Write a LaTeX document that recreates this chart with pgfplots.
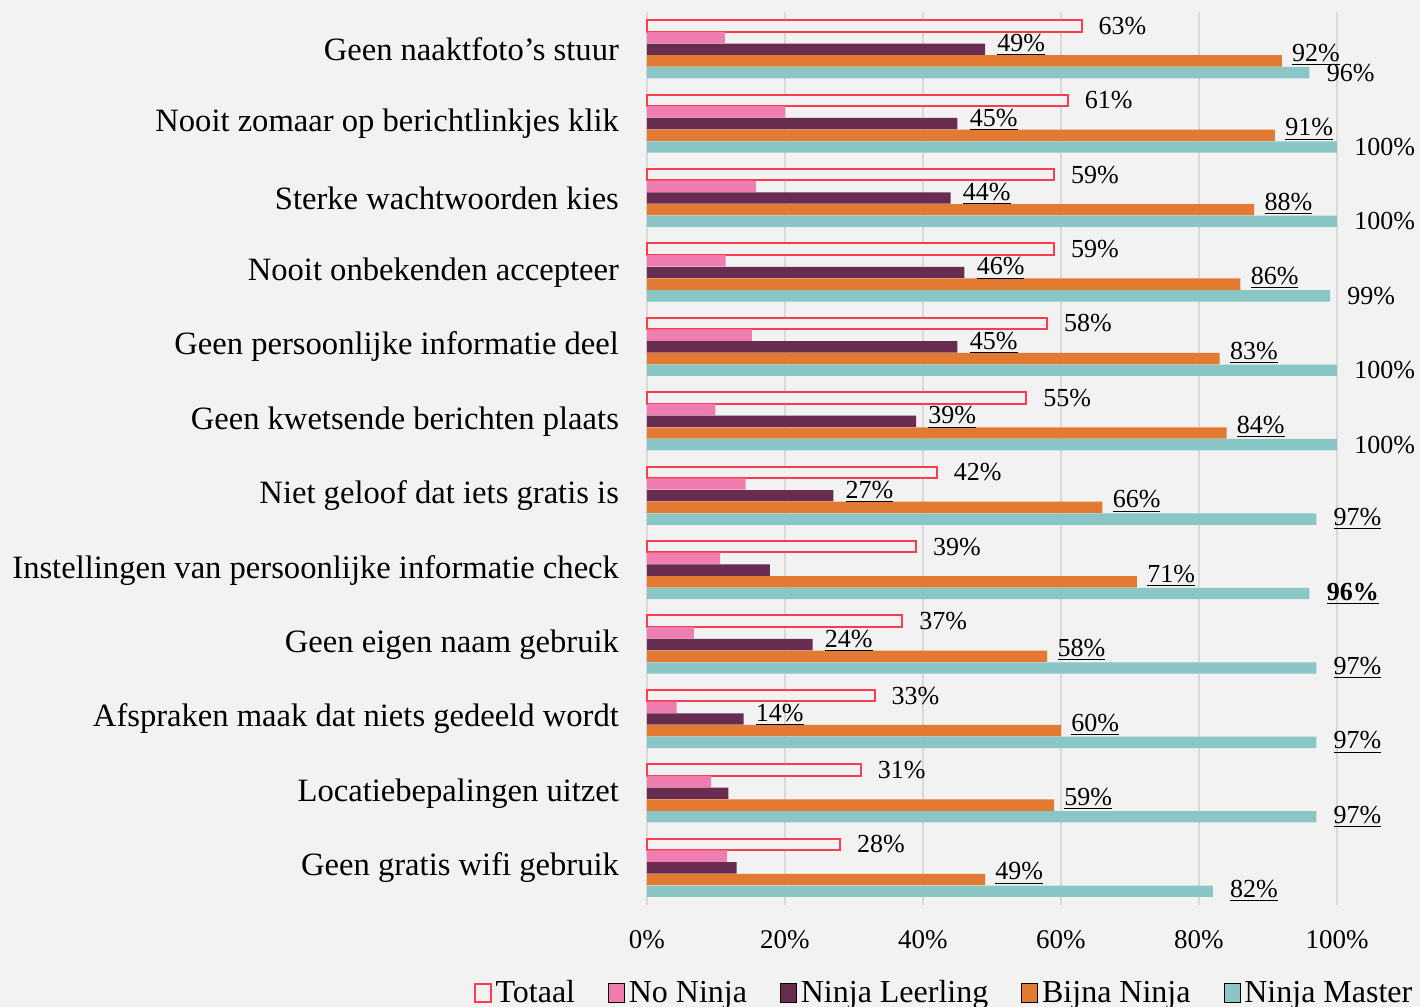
\documentclass[border=0pt]{standalone}
\usepackage{fontspec}
\setmainfont{Liberation Serif}
\usepackage{pgfplots}
\pgfplotsset{compat=1.18}
\definecolor{bg}{HTML}{F2F2F2}
\definecolor{cTot}{HTML}{FF3B4E}
\definecolor{cNo}{HTML}{EF7DAF}
\definecolor{cLeer}{HTML}{672C50}
\definecolor{cBijna}{HTML}{E27B31}
\definecolor{cMaster}{HTML}{8BC6C7}
\definecolor{gridc}{HTML}{D9D9D9}

\pgfplotsset{
  lgd/.style={legend image code/.code={\draw[##1] (0pt,-4.6pt) rectangle (8pt,4.6pt);}},
}

\begin{document}
\begin{tikzpicture}
% page = 1420 x 1007 px at 0.5pt per px; plot area lower left at (0,0)
\path[use as bounding box, fill=bg] (-323.5pt,-51pt) rectangle (386.5pt,452.5pt);
\begin{axis}[
    scale only axis,
    width=345pt, height=446.5pt,
    xbar, bar width=5.7pt,
    xmin=0, xmax=100,
    ymin=-0.5, ymax=11.5, y dir=reverse,
    axis line style={draw=none},
    major tick length=0pt,
    xtick={0,20,...,100},
    xticklabel={\pgfmathprintnumber{\tick}\%},
    /pgf/number format/assume math mode=true,
    xticklabel style={font=\fontsize{13.5}{15}\selectfont, yshift=-9pt},
    xmajorgrids, grid style={gridc, line width=0.8pt},
    ytick={0,...,11},
    yticklabels={Geen naaktfoto's stuur, Nooit zomaar op berichtlinkjes klik,
      Sterke wachtwoorden kies, Nooit onbekenden accepteer,
      Geen persoonlijke informatie deel, Geen kwetsende berichten plaats,
      Niet geloof dat iets gratis is, Instellingen van persoonlijke informatie check,
      Geen eigen naam gebruik, Afspraken maak dat niets gedeeld wordt,
      Locatiebepalingen uitzet, Geen gratis wifi gebruik},
    yticklabel style={font=\fontsize{16.3}{18}\selectfont, xshift=-10.5pt},
    clip=false,
    point meta=explicit symbolic,
    nodes near coords={\pgfplotspointmeta},
    every node near coord/.append style={font=\fontsize{13}{15}\selectfont, anchor=west, inner sep=0pt, black},
    legend columns=-1,
    legend style={draw=none, fill=none, at={(-0.2606,-0.0985)}, anchor=west,
      font=\fontsize{16}{18}\selectfont,
      /tikz/every even column/.append style={column sep=14.5pt}},
]
\addplot[bar shift=11.7pt, draw=cTot, fill=bg, line width=1pt, lgd,
  every node near coord/.append style={xshift=8pt}] coordinates {
  (63,0) [63\%] (61,1) [61\%] (59,2) [59\%] (59,3) [59\%] (58,4) [58\%] (55,5) [55\%]
  (42,6) [42\%] (39,7) [39\%] (37,8) [37\%] (33,9) [33\%] (31,10) [31\%] (28,11) [28\%]};
\addplot[bar shift=5.85pt, draw=none, fill=cNo, lgd, nodes near coords={}] coordinates {
  (11.3,0) [] (20,1) [] (15.8,2) [] (11.4,3) [] (15.2,4) [] (9.9,5) []
  (14.3,6) [] (10.6,7) [] (6.8,8) [] (4.3,9) [] (9.3,10) [] (11.6,11) []};
\addplot[bar shift=0pt, draw=none, fill=cLeer, lgd,
  every node near coord/.append style={xshift=6pt, yshift=2pt}] coordinates {
  (49,0) [\underline{49\%}] (45,1) [\underline{45\%}] (44,2) [\underline{44\%}]
  (46,3) [\underline{46\%}] (45,4) [\underline{45\%}] (39,5) [\underline{39\%}]
  (27,6) [\underline{27\%}] (17.8,7) [{}] (24,8) [\underline{24\%}]
  (14,9) [\underline{14\%}] (11.8,10) [{}] (13,11) [{}]};
\addplot[bar shift=-5.85pt, draw=none, fill=cBijna, lgd,
  every node near coord/.append style={xshift=5pt, yshift=3pt}] coordinates {
  (92,0) [\underline{92\%}] (91,1) [\underline{91\%}] (88,2) [\underline{88\%}]
  (86,3) [\underline{86\%}] (83,4) [\underline{83\%}] (84,5) [\underline{84\%}]
  (66,6) [\underline{66\%}] (71,7) [\underline{71\%}] (58,8) [\underline{58\%}]
  (60,9) [\underline{60\%}] (59,10) [\underline{59\%}] (49,11) [\underline{49\%}]};
\addplot[bar shift=-11.7pt, draw=none, fill=cMaster, lgd,
  every node near coord/.append style={xshift=8.5pt}] coordinates {
  (96,0) [96\%] (100,1) [100\%] (100,2) [100\%] (99,3) [99\%] (100,4) [100\%]
  (100,5) [100\%] (97,6) [\underline{97\%}] (96,7) [\underline{\textbf{96\%}}]
  (97,8) [\underline{97\%}] (97,9) [\underline{97\%}] (97,10) [\underline{97\%}]
  (82,11) [\underline{82\%}]};
\legend{Totaal, No Ninja, Ninja Leerling, Bijna Ninja, Ninja Master}
\end{axis}
\end{tikzpicture}
\end{document}
